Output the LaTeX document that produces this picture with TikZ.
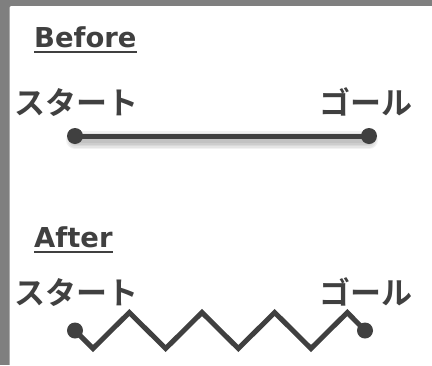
\documentclass[tikz,border=0pt]{standalone}
\usepackage{fontspec}
\setmainfont{DejaVu Sans}
\newfontfamily\jpfont{Noto Sans CJK JP}[BoldFont={* Bold}]
\definecolor{ink}{HTML}{404040}
\definecolor{frame}{HTML}{7F7F7F}
\begin{document}
\begin{tikzpicture}[x=1pt,y=-1pt,
  title/.style={font=\bfseries\fontsize{27.4}{30}\selectfont, text=ink, inner sep=0pt, anchor=base west},
  label/.style={font=\jpfont\bfseries\fontsize{31}{34}\selectfont, text=ink, inner sep=0pt, anchor=base},
  dot/.style={circle, fill=ink, inner sep=0pt, minimum size=16pt},
  wire/.style={draw=ink, line width=5pt},
  rule/.style={draw=ink, line width=1.5pt},
  shade/.style={draw=black, draw opacity=0.05, line cap=round}]
\useasboundingbox (0,0) rectangle (432,365);
% panel
\fill[frame] (0,0) rectangle (432,365);
\fill[white, rounded corners=2pt] (9.5,6) rectangle (445,380);

% --- Before ---
\node[title] (tb) at (34,47) {Before};
\draw[rule] ([yshift=-5pt]tb.base west) -- ([yshift=-5pt]tb.base east);
\node[label] (sb) at (77,114.5) {スタート};
\node[label] (gb) at (365.5,114.5) {ゴール};
\coordinate (bs) at (75,136);
\coordinate (bg) at (369,136);
% soft shadow under the straight line
\foreach \w in {18,15,12,9,6}
  \draw[shade, line width=\w pt] ([yshift=-4pt]bs) -- ([yshift=-4pt]bg);
\draw[wire] (bs) -- (bg);
\node[dot] (d1) at (bs) {};
\node[dot] (d2) at (bg) {};

% --- After ---
\node[title] (ta) at (34,247) {After};
\draw[rule] ([yshift=-5pt]ta.base west) -- ([yshift=-5pt]ta.base east);
\node[label] (sa) at (77,304) {スタート};
\node[label] (ga) at (365.5,304) {ゴール};
\node[dot] (d3) at (75,330.5) {};
\node[dot] (d4) at (365,330.5) {};
\draw[wire] (d3.center) -- (93,348.5) -- (129.33,312.5) -- (165.67,348.5)
  -- (202,312.5) -- (238.33,348.5) -- (274.67,312.5) -- (311,348.5)
  -- (347.33,312.5) -- (d4.center);
\end{tikzpicture}
\end{document}
